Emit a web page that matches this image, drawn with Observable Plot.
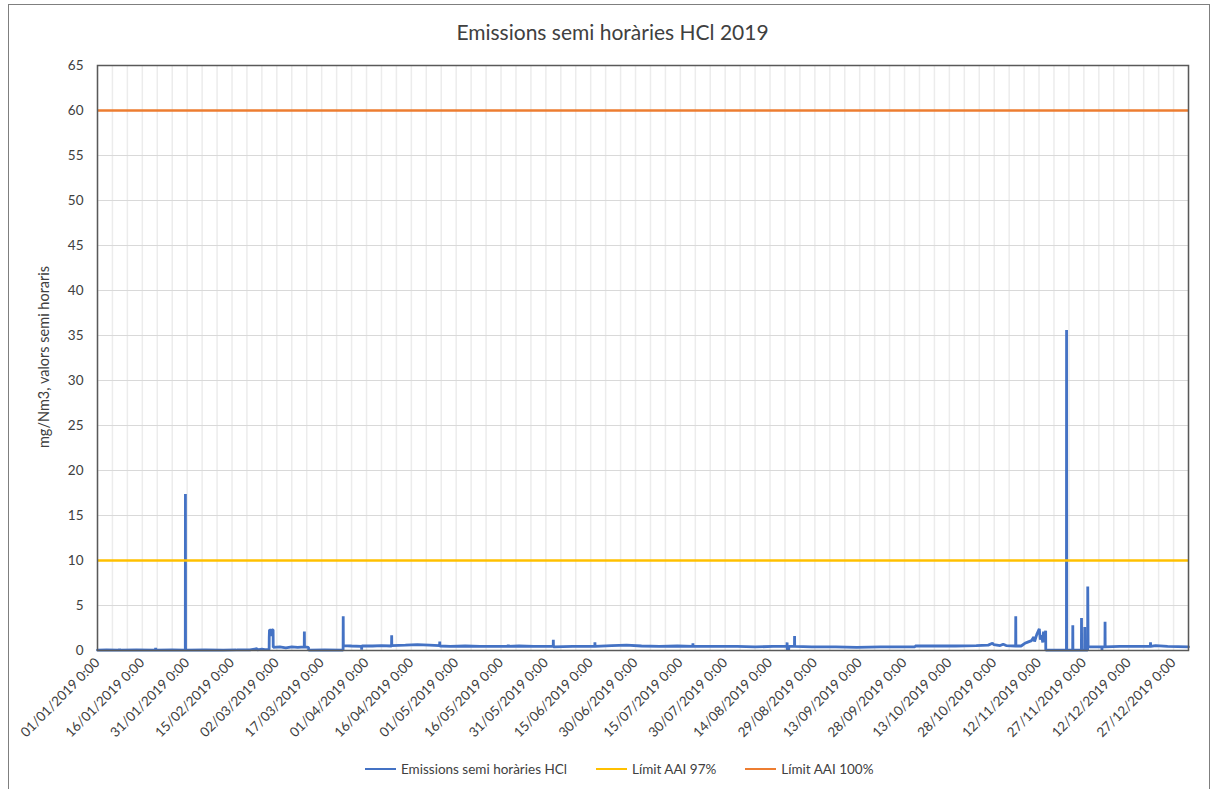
<!DOCTYPE html>
<html>
<head>
<meta charset="utf-8">
<script src="https://cdn.jsdelivr.net/npm/d3@7"></script>
<script src="https://cdn.jsdelivr.net/npm/@observablehq/plot@0.6"></script>
<style>
  html, body { margin: 0; padding: 0; background: #fff; }
  body { width: 1213px; height: 789px; position: relative; overflow: hidden; font-family: Lato, "Open Sans", sans-serif; color: #404040; }
  #frame { position: absolute; left: 8px; top: 4px; width: 1202px; height: 800px; border: 1px solid #7f7f7f; box-sizing: border-box; }
  #title { position: absolute; left: 0; width: 1225px; top: 19px; text-align: center; font-size: 21px; color: #404040; }
  #chart { position: absolute; left: 0; top: 0; }
  #ylabel { position: absolute; left: 43px; top: 357px; transform: translate(-50%, -50%) rotate(-90deg); white-space: nowrap; font-size: 14.5px; color: #404040; }
  #legend { position: absolute; top: 761px; left: 365px; display: flex; align-items: center; font-size: 13.5px; color: #404040; white-space: nowrap; }
  .item { display: flex; align-items: center; margin-right: 29px; }
  .sw { display: inline-block; width: 31px; height: 0; border-top: 2.5px solid; margin-right: 5px; }
</style>
</head>
<body>
<div id="frame"></div>
<div id="chart"></div>
<div id="title">Emissions semi horàries HCl 2019</div>
<div id="ylabel">mg/Nm3, valors semi horaris</div>
<div id="legend"></div>
<script>
// ---- data ----
const stamps = [
  "01-01 00:00","01-04 00:00","01-08 08:00","01-08 09:00","01-08 10:00","01-14 00:00",
  "01-20 10:00","01-20 11:00","01-20 12:00","01-26 00:00","01-30 09:00","01-30 10:00","01-30 11:00",
  "02-06 00:00","02-12 00:00","02-16 12:00","02-16 13:00","02-16 14:00","02-21 00:00","02-23 10:00","02-23 11:00",
  "02-25 00:00","02-26 00:00","02-27 10:00","02-27 11:00","02-27 13:00","02-28 05:00","02-28 06:00","02-28 08:00",
  "02-28 18:00","02-28 19:00","03-03 00:00","03-05 00:00","03-07 00:00","03-09 00:00","03-11 04:00","03-11 05:00",
  "03-11 06:00","03-12 14:00","03-12 15:00","03-18 00:00","03-24 04:00","03-24 05:00","03-24 06:00","03-27 00:00",
  "03-30 08:00","03-30 09:00","03-30 10:00","04-03 00:00","04-06 00:00","04-09 09:00","04-09 10:00","04-09 11:00",
  "04-14 00:00","04-18 00:00","04-22 00:00","04-25 11:00","04-25 12:00","04-25 13:00","04-29 00:00","05-04 00:00",
  "05-09 00:00","05-14 00:00","05-18 09:00","05-18 10:00","05-18 11:00","05-22 00:00","05-27 00:00","06-02 11:00",
  "06-02 12:00","06-02 13:00","06-09 00:00","06-16 09:00","06-16 10:00","06-16 11:00","06-22 00:00","06-27 00:00",
  "07-02 00:00","07-08 00:00","07-14 00:00","07-19 04:00","07-19 05:00","07-19 06:00","07-27 06:00","07-27 07:00",
  "07-27 08:00","08-03 00:00","08-09 00:00","08-15 00:00","08-19 16:00","08-19 17:00","08-19 18:00","08-20 06:00",
  "08-20 07:00","08-22 04:00","08-22 05:00","08-22 06:00","08-28 00:00","09-05 00:00","09-12 00:00","09-20 00:00",
  "09-27 00:00","10-01 12:00","10-01 14:00","10-08 00:00","10-15 00:00","10-22 00:00","10-26 00:00","10-27 10:00",
  "10-27 20:00","10-30 00:00","10-31 00:00","11-01 00:00","11-04 04:00","11-04 05:00","11-04 06:00","11-06 00:00",
  "11-07 06:00","11-08 00:00","11-09 12:00","11-10 06:00","11-10 12:00","11-11 06:00","11-12 02:00","11-12 10:00",
  "11-12 20:00","11-13 06:00","11-13 12:00","11-13 18:00","11-14 05:00","11-14 06:00","11-21 04:00","11-21 05:00",
  "11-21 06:00","11-23 06:00","11-23 07:00","11-23 08:00","11-26 04:00","11-26 05:00","11-26 06:00","11-27 06:00",
  "11-27 07:00","11-27 08:00","11-28 06:00","11-28 07:00","11-28 10:00","12-01 00:00","12-03 00:00","12-03 01:00",
  "12-03 02:00","12-04 01:00","12-04 02:00","12-04 03:00","12-09 00:00","12-14 00:00","12-19 06:00","12-19 07:00",
  "12-19 08:00","12-21 00:00","12-25 00:00","12-31 23:30"
];
const hcl = [
  0.05,0.08,0.05,0.2,0.05,0.07,
  0.05,0.3,0.05,0.06,0.05,17.4,0.05,
  0.07,0.05,0.06,0.15,0.06,0.08,0.2,0.08,
  0.15,0.1,0.12,1.5,2.3,2.2,1.6,2.3,
  2.3,0.35,0.4,0.3,0.4,0.35,0.4,2.1,
  0.4,0.35,0.05,0.08,0.05,3.8,0.55,0.5,
  0.45,0.1,0.5,0.5,0.55,0.5,1.7,0.55,
  0.6,0.65,0.6,0.55,1.0,0.5,0.45,0.5,
  0.45,0.45,0.45,0.65,0.45,0.5,0.45,0.45,
  1.2,0.4,0.45,0.45,0.9,0.45,0.55,0.6,
  0.5,0.45,0.5,0.45,0.8,0.45,0.45,0.6,
  0.45,0.45,0.4,0.45,0.45,0.9,0.1,0.1,
  0.45,0.45,1.6,0.45,0.4,0.4,0.35,0.4,
  0.4,0.4,0.5,0.5,0.5,0.55,0.6,0.8,
  0.65,0.55,0.7,0.55,0.5,3.8,0.5,0.5,
  0.8,0.9,1.1,1.5,1.0,1.8,2.4,1.2,
  1.7,0.9,2.1,1.0,2.2,0.05,0.05,35.6,
  0.05,0.05,2.8,0.05,0.05,3.6,0.05,0.05,
  2.6,0.05,0.05,7.1,0.4,0.4,0.4,0.05,
  0.4,0.4,3.2,0.4,0.45,0.45,0.45,0.9,
  0.45,0.55,0.45,0.4
];
const limit97 = [10];
const limit100 = [60];
const yTicks = [0,5,10,15,20,25,30,35,40,45,50,55,60,65];
const xTickDays = ["2019-01-01","2019-01-16","2019-01-31","2019-02-15","2019-03-02","2019-03-17","2019-04-01",
  "2019-04-16","2019-05-01","2019-05-16","2019-05-31","2019-06-15","2019-06-30","2019-07-15","2019-07-30",
  "2019-08-14","2019-08-29","2019-09-13","2019-09-28","2019-10-13","2019-10-28","2019-11-12","2019-11-27",
  "2019-12-12","2019-12-27"];
const seriesNames = ["Emissions semi horàries HCl", "Límit AAI 97%", "Límit AAI 100%"];
const seriesColors = ["#4472C4", "#FFC000", "#ED7D31"];

// ---- build ----
const parseT = d3.utcParse("%Y-%m-%d %H:%M");
const parseD = d3.utcParse("%Y-%m-%d");
const data = stamps.map((s, i) => ({t: parseT("2019-" + s), v: hcl[i]}));
const x0 = parseD("2019-01-01"), x1 = parseD("2020-01-01");
const xTicks = xTickDays.map(parseD);
const gridDays = d3.range(0, 366, 5).map(d => d3.utcDay.offset(x0, d));
const fmt = d3.utcFormat("%d/%m/%Y 0:00");

const chart = Plot.plot({
  width: 1213,
  height: 789,
  marginLeft: 97,
  marginRight: 25,
  marginTop: 65,
  marginBottom: 139,
  style: {fontFamily: "Lato, 'Open Sans', sans-serif", fontSize: "13.5px", color: "#404040", background: "transparent", overflow: "visible"},
  x: {type: "utc", domain: [x0, x1], ticks: xTicks, tickFormat: fmt, tickRotate: -45, tickSize: 0, tickPadding: 10, label: null},
  y: {domain: [0, 65], ticks: yTicks, tickSize: 0, tickPadding: 14, label: null},
  marks: [
    Plot.ruleX(gridDays, {stroke: "#ececec", strokeWidth: 1.5}),
    Plot.ruleY(yTicks, {stroke: "#d9d9d9", strokeWidth: 1}),
    Plot.lineY(data, {x: "t", y: "v", stroke: seriesColors[0], strokeWidth: 2.8, strokeLinejoin: "miter"}),
    Plot.ruleY(limit97, {stroke: seriesColors[1], strokeWidth: 2.5}),
    Plot.ruleY(limit100, {stroke: seriesColors[2], strokeWidth: 2.5}),
    Plot.frame({stroke: "#595959", strokeWidth: 1.5})
  ]
});
document.getElementById("chart").appendChild(chart);

const legend = document.getElementById("legend");
seriesNames.forEach((n, i) => {
  const it = document.createElement("div");
  it.className = "item";
  const sw = document.createElement("span");
  sw.className = "sw";
  sw.style.borderTopColor = seriesColors[i];
  it.appendChild(sw);
  it.appendChild(document.createTextNode(n));
  legend.appendChild(it);
});
</script>
</body>
</html>
